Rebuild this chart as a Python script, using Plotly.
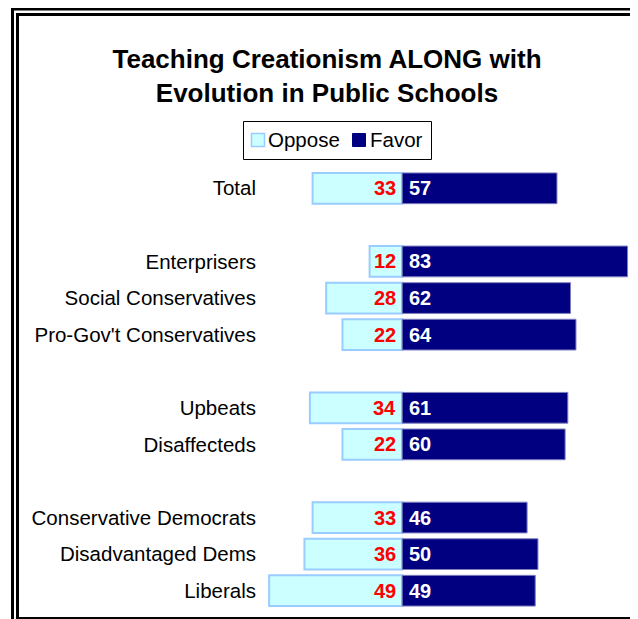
import plotly.graph_objects as go

# ---- data ----
categories = ["Total", " ", "Enterprisers", "Social Conservatives", "Pro-Gov't Conservatives",
              "  ", "Upbeats", "Disaffecteds", "   ",
              "Conservative Democrats", "Disadvantaged Dems", "Liberals"]
groups = ["Total", "Enterprisers", "Social Conservatives", "Pro-Gov't Conservatives",
          "Upbeats", "Disaffecteds",
          "Conservative Democrats", "Disadvantaged Dems", "Liberals"]
oppose = [33, 12, 28, 22, 34, 22, 33, 36, 49]
favor = [57, 83, 62, 64, 61, 60, 46, 50, 49]
series_names = ["Oppose", "Favor"]
title_text = "Teaching Creationism ALONG with<br>Evolution in Public Schools"

OPP_FILL, OPP_LINE = "#CCFFFF", "#99CCFF"
FAV_FILL, FAV_LINE = "#000080", "#7F7FBF"

# The page body has an 8px margin, so the figure is drawn 8px in from the window edge.
OFF = 8
W, H = 638 - OFF, 619 - OFF
ML, MR, MT, MB = 261 - OFF, 8, 170 - OFF, 10
PW, PH = W - ML - MR, H - MT - MB

FONT = "Arial, 'Liberation Sans', sans-serif"

fig = go.Figure()
fig.add_trace(go.Bar(
    y=groups, x=[-v for v in oppose], orientation="h", name=series_names[0],
    marker=dict(color=OPP_FILL, line=dict(color=OPP_LINE, width=2)),
    width=0.84, hoverinfo="skip"))
fig.add_trace(go.Bar(
    y=groups, x=favor, orientation="h", name=series_names[1],
    marker=dict(color=FAV_FILL, line=dict(color=FAV_LINE, width=1)),
    width=0.84, hoverinfo="skip"))

annotations = []
for g, o, f in zip(groups, oppose, favor):
    annotations.append(dict(x=0, y=g, xref="x", yref="y", text=str(o), showarrow=False,
                            xanchor="right", yanchor="middle", xshift=-4,
                            font=dict(family=FONT, size=20, color="#FF0000", weight="bold")))
    annotations.append(dict(x=0, y=g, xref="x", yref="y", text=str(f), showarrow=False,
                            xanchor="left", yanchor="middle", xshift=5,
                            font=dict(family=FONT, size=20, color="#FFFFFF", weight="bold")))


def px2paper_x(px):
    return (px - OFF - ML) / PW


def px2paper_y(py):
    return (H - MB - (py - OFF)) / PH


def rect(x0, y0, x1, y1, color, width, fill="rgba(0,0,0,0)"):
    return dict(type="rect", xref="paper", yref="paper",
                x0=px2paper_x(x0), y0=px2paper_y(y0), x1=px2paper_x(x1), y1=px2paper_y(y1),
                line=dict(color=color, width=width), fillcolor=fill, layer="above")


shapes = [
    # double frame
    rect(12.5, 9, 720, 720, "black", 3),
    rect(17.5, 14.5, 637.5, 618.5, "black", 3),
    # legend box and keys
    rect(243.5, 121.5, 431.5, 159.5, "black", 1, "white"),
    rect(251.5, 133.5, 264.5, 146.5, OPP_LINE, 1.5, OPP_FILL),
    rect(352.5, 133.5, 365.5, 146.5, FAV_FILL, 1, FAV_FILL),
]

for name, xpx in zip(series_names, [266, 368]):
    annotations.append(dict(x=px2paper_x(xpx), y=px2paper_y(139.5), xref="paper", yref="paper",
                            text=name, showarrow=False, xanchor="left", yanchor="middle",
                            font=dict(family=FONT, size=20.5, color="black")))

fig.update_layout(
    width=W, height=H,
    margin=dict(l=ML, r=MR, t=MT, b=MB, autoexpand=False),
    paper_bgcolor="white", plot_bgcolor="white",
    barmode="relative",
    showlegend=False,
    title=dict(text=title_text, x=(327 - OFF) / W, xanchor="center", xref="container",
               y=1 - 60 / H, yanchor="top", yref="container",
               font=dict(family=FONT, size=26, color="black", weight="bold")),
    xaxis=dict(range=[-52, 83.9], visible=False, fixedrange=True),
    yaxis=dict(categoryorder="array", categoryarray=categories, type="category",
               range=[11.5, -0.5], showgrid=False, zeroline=False, showline=False,
               ticks="", ticklabelstandoff=4,
               tickfont=dict(family=FONT, size=20.5, color="black")),
    annotations=annotations,
    shapes=shapes,
)

fig.write_html("out.html")
